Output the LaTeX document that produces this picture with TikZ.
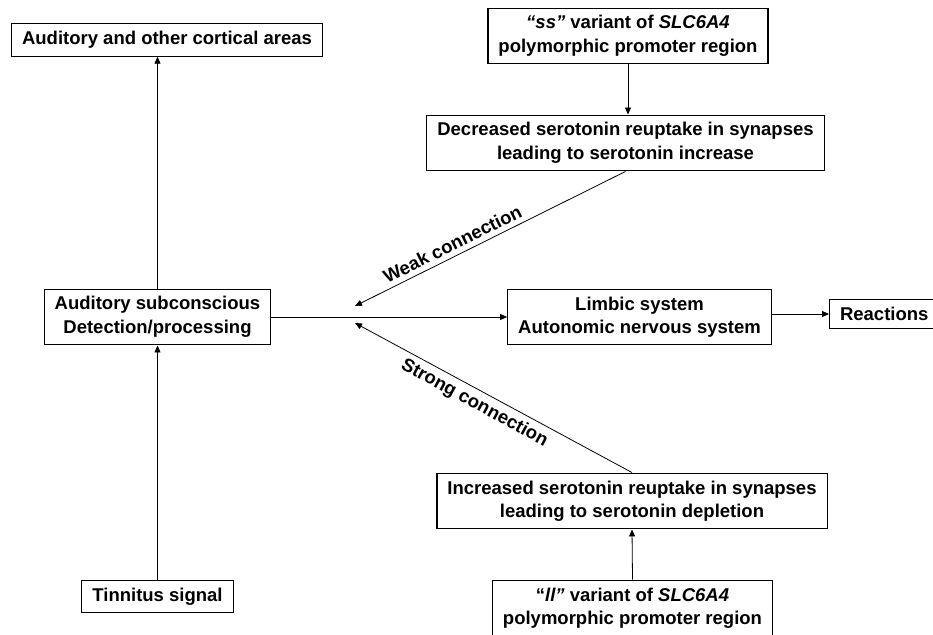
\documentclass[tikz,border=0pt]{standalone}
\usepackage{fontspec}
\setmainfont{Liberation Sans}
\usetikzlibrary{arrows.meta}

\begin{document}
\begin{tikzpicture}[x=1pt,y=-1pt,
    box/.style={draw,line width=1.1pt,align=center,inner xsep=10.5pt,inner ysep=7.5pt,
      font=\bfseries\fontsize{18.5}{23.5}\selectfont},
    link/.style={line width=0.8pt,-{Triangle[length=7pt,width=6pt]}},
    lbl/.style={font=\bfseries\fontsize{18.5}{22}\selectfont,sloped,inner sep=5pt}]
    \clip (0,0) rectangle (933,634);

    \node[box] (cort) at (167,40) {Auditory and other cortical areas};
    \node[box] (sub) at (157.5,317) {Auditory subconscious\\Detection/processing};
    \node[box] (tin) at (157.5,596.5) {Tinnitus signal};
    \node[box] (limb) at (639.5,317) {Limbic system\\Autonomic nervous system};
    \node[box,anchor=west] (react) at (829,314) {Reactions};

    \node[box] (ss) at (628,36) {\textit{“ss”} variant of \textit{SLC6A4}\\polymorphic promoter region};
    \node[box] (decr) at (625.5,143) {Decreased serotonin reuptake in synapses\\leading to serotonin increase};
    \node[box] (incr) at (632,501) {Increased serotonin reuptake in synapses\\leading to serotonin depletion};
    \node[box] (ll) at (632.5,608) {“\textit{ll”} variant of \textit{SLC6A4}\\polymorphic promoter region};

    \coordinate (wk) at (355,306);
    \coordinate (st) at (355,323);

    \draw[link] (sub.north) -- (sub.north |- cort.south);
    \draw[link] (tin.north) -- (sub.south);
    \draw[link] (sub.east) -- (limb.west);
    \draw[link] (limb.east |- react.west) -- (react.west);
    \draw[link] (ss.south) -- (ss.south |- decr.north);
    \draw[link] (ll.north) -- (incr.south);
    \draw[link] (decr.south) -- (wk) node[lbl,pos=0.62,above] {Weak connection};
    \draw[link] (incr.north) -- (st) node[lbl,pos=0.545,below] {Strong connection};

\end{tikzpicture}
\end{document}
